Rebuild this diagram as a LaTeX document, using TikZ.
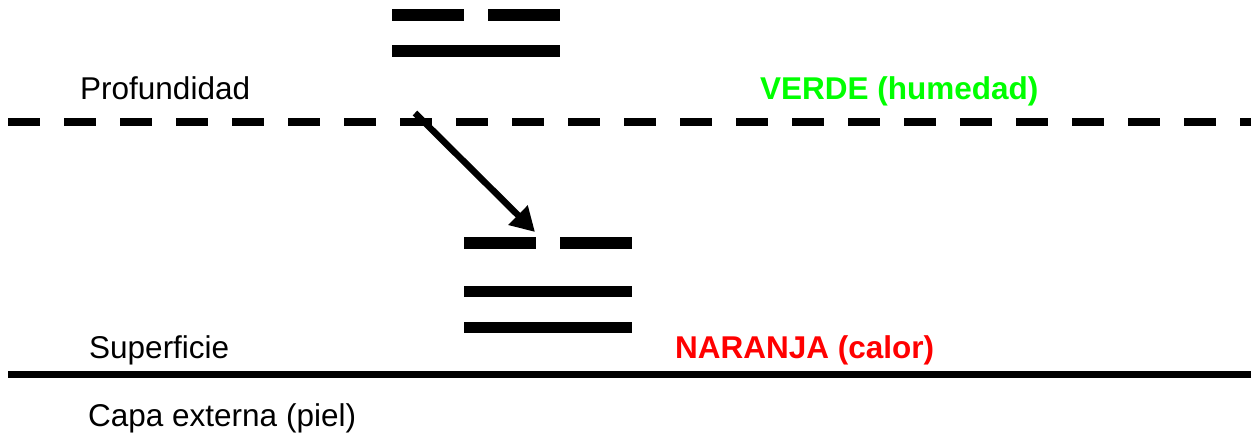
\documentclass[tikz,border=0pt]{standalone}
\usepackage{fontspec}
\setmainfont{Liberation Sans}
\usetikzlibrary{arrows.meta}
\definecolor{vgreen}{RGB}{0,255,0}
\definecolor{nred}{RGB}{255,0,0}
\tikzset{
  lbl/.style={anchor=base west, inner sep=0pt, font=\fontsize{31.5}{38}\selectfont},
  bold/.style={lbl, font=\fontsize{31.5}{38}\selectfont\bfseries},
  bar/.style={fill=black, draw=none},
  arr/.style={line width=6.5pt, -{Triangle[length=24pt,width=26pt]}},
}
\begin{document}
\begin{tikzpicture}[x=1pt,y=-1pt]
\useasboundingbox (0,0) rectangle (1251,438);
% top trigram (broken over solid)
\fill[bar] (392,9) rectangle (464,21);
\fill[bar] (488,9) rectangle (560,21);
\fill[bar] (392,45) rectangle (560,57);
% lower trigram
\fill[bar] (464,237) rectangle (536,249);
\fill[bar] (560,237) rectangle (632,249);
\fill[bar] (464,286) rectangle (632,297);
\fill[bar] (464,322) rectangle (632,333);
% lines
\coordinate (dl) at (8,122);
\coordinate (dr) at (1251,122);
\draw[line width=8pt, dash pattern=on 32pt off 24pt] (dl) -- (dr);
\coordinate (sl) at (8,374.5);
\coordinate (sr) at (1251,374.5);
\draw[line width=7pt] (sl) -- (sr);
% arrow
\coordinate (as) at (415,113);
\coordinate (ae) at (535,232);
\draw[arr] (as) -- (ae);
% labels
\node[lbl] (prof) at (80,100) {Profundidad};
\node[lbl] (sup) at (89,359) {Superficie};
\node[lbl] (capa) at (88,427) {Capa externa (piel)};
\node[bold, text=vgreen] (verde) at (760,100) {VERDE (humedad)};
\node[bold, text=nred] (naranja) at (675,359) {NARANJA (calor)};
\end{tikzpicture}
\end{document}
